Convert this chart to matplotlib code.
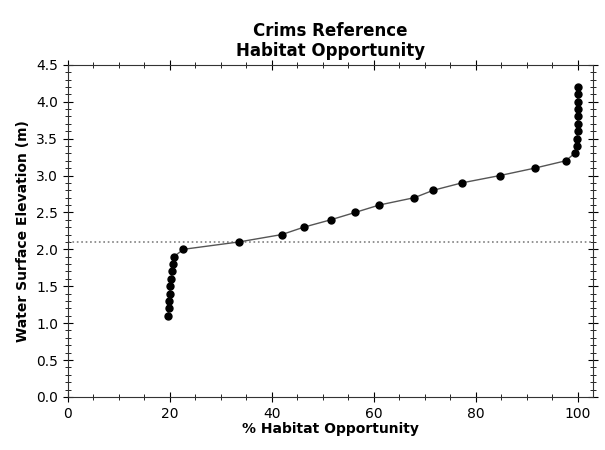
import matplotlib.pyplot as plt
from matplotlib.ticker import MultipleLocator

# water surface elevation (m) and % habitat opportunity
elevation = [1.1, 1.2, 1.3, 1.4, 1.5, 1.6, 1.7, 1.8, 1.9, 2.0,
             2.1, 2.2, 2.3, 2.4, 2.5, 2.6, 2.7, 2.8, 2.9, 3.0,
             3.1, 3.2, 3.3, 3.4, 3.5, 3.6, 3.7, 3.8, 3.9, 4.0,
             4.1, 4.2]
habitat = [19.7, 19.8, 19.9, 20.0, 20.1, 20.3, 20.5, 20.6, 20.8, 22.7,
           33.6, 42.0, 46.3, 51.6, 56.4, 61.1, 68.0, 71.7, 77.3, 84.8,
           91.6, 97.7, 99.4, 99.8, 99.9, 100.0, 100.0, 100.0, 100.0, 100.0,
           100.0, 100.0]
reference_level = 2.1

fig = plt.figure(figsize=(6.05, 4.5), dpi=100)
ax = fig.add_axes([0.112, 0.118, 0.868, 0.738])

ax.axhline(reference_level, color='gray', linestyle=':', linewidth=1.2)
ax.plot(habitat, elevation, color='#555555', linewidth=1, marker='o',
        markersize=5, markerfacecolor='black', markeredgecolor='black')

ax.set_xlim(0, 103)
ax.set_ylim(0, 4.5)
ax.xaxis.set_major_locator(MultipleLocator(20))
ax.xaxis.set_minor_locator(MultipleLocator(5))
ax.yaxis.set_major_locator(MultipleLocator(0.5))
ax.yaxis.set_minor_locator(MultipleLocator(0.1))
ax.tick_params(which='both', direction='inout', top=True, right=True,
               labelsize=10)
ax.tick_params(which='major', length=7)
ax.tick_params(which='minor', length=4)
for s in ax.spines.values():
    s.set_color('#333333')

ax.set_xlabel('% Habitat Opportunity', fontweight='bold', fontsize=10, labelpad=1)
ax.set_ylabel('Water Surface Elevation (m)', fontweight='bold', fontsize=10)
ax.set_title('Crims Reference\nHabitat Opportunity', fontweight='bold',
             fontsize=12, pad=6)

plt.savefig('out.png', dpi=100)
